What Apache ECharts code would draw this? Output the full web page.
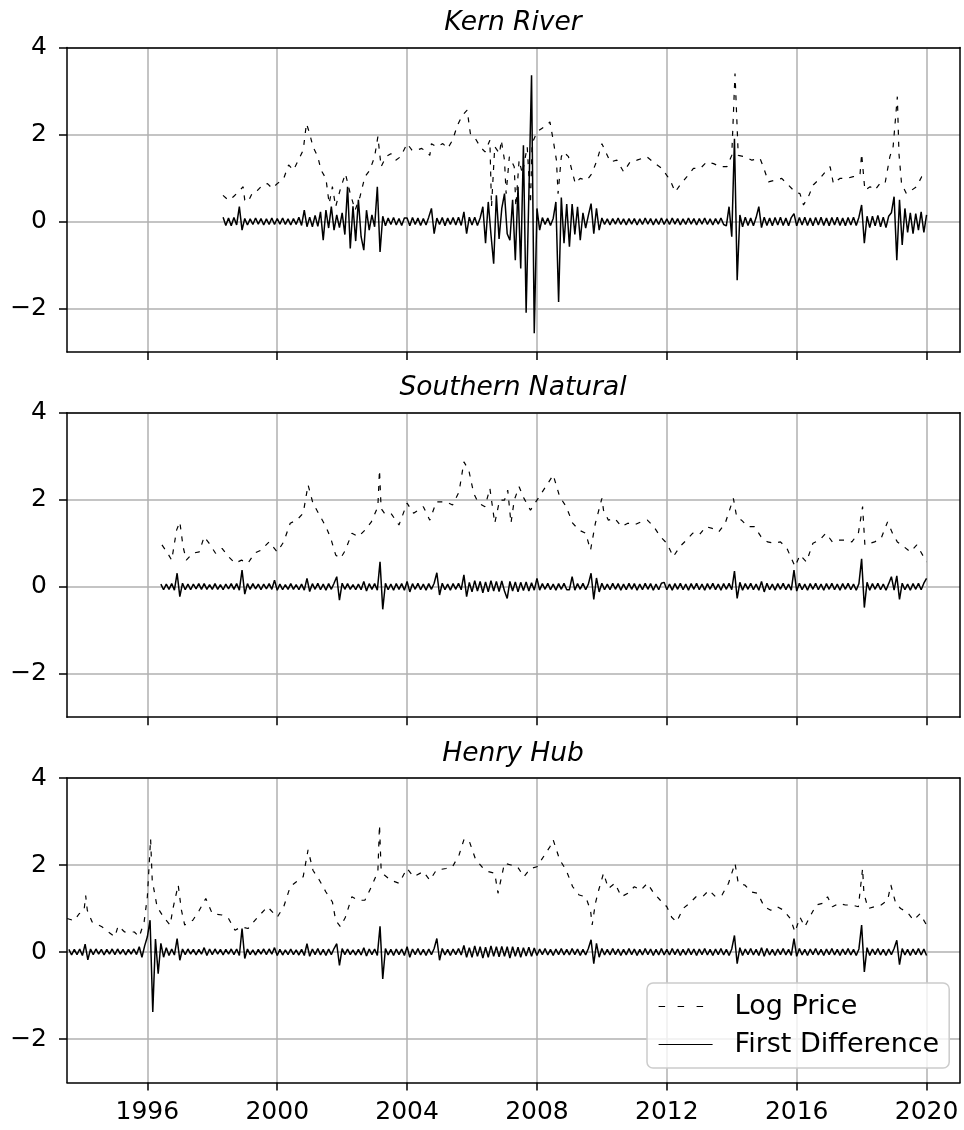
<!DOCTYPE html>
<html>
<head>
<meta charset="utf-8">
<script src="https://cdn.jsdelivr.net/npm/echarts@6.0.0/dist/echarts.min.js"></script>
<style>
  html, body { margin: 0; padding: 0; background: #fff; }
  #main { width: 964px; height: 1130px; }
</style>
</head>
<body>
<div id="main"></div>
<script>
// panel titles and tick labels
const titles = ['Kern River', 'Southern Natural', 'Henry Hub'];
const yearTicks = [1996, 2000, 2004, 2008, 2012, 2016, 2020];
const valueTicks = [-2, 0, 2, 4];

// log price, [decimal year, value]
const kernPrice = [
  [1998.33,.6],[1998.5,.49],[1998.65,.57],[1998.8,.68],[1998.95,.8],[1999.0,.49],[1999.1,.45],[1999.25,.68],
  [1999.4,.72],[1999.55,.84],[1999.7,.87],[1999.85,.76],[2000.0,.87],[2000.2,.99],[2000.35,1.3],[2000.5,1.18],
  [2000.65,1.41],[2000.8,1.64],[2000.9,2.25],[2001.0,2.02],[2001.1,1.72],[2001.25,1.49],[2001.35,1.18],[2001.5,.99],
  [2001.6,.41],[2001.7,.8],[2001.8,.34],[2001.95,.76],[2002.1,1.1],[2002.25,.64],[2002.4,.26],[2002.55,.57],
  [2002.7,1.03],[2002.85,1.18],[2003.0,1.49],[2003.1,1.95],[2003.2,1.26],[2003.35,1.49],[2003.5,1.56],[2003.65,1.41],
  [2003.8,1.49],[2004.0,1.79],[2004.15,1.64],[2004.3,1.64],[2004.45,1.68],[2004.6,1.6],[2004.7,1.52],[2004.75,1.79],
  [2004.9,1.72],[2005.1,1.79],[2005.25,1.68],[2005.4,1.87],[2005.55,2.21],[2005.7,2.44],[2005.85,2.56],[2005.95,2.02],
  [2006.1,1.91],[2006.25,1.72],[2006.4,1.6],[2006.55,1.87],[2006.6,.34],[2006.7,1.72],[2006.85,1.56],[2006.9,1.87],
  [2007.0,1.41],[2007.05,.64],[2007.15,1.49],[2007.3,1.26],[2007.35,.34],[2007.45,1.41],[2007.55,1.1],[2007.7,1.72],
  [2007.8,.41],[2007.85,1.79],[2008.0,2.06],[2008.15,2.14],[2008.3,2.21],[2008.4,2.29],[2008.5,1.87],[2008.6,1.41],
  [2008.65,.64],[2008.75,1.49],[2008.82,1.6],[2008.97,1.49],[2009.18,.87],[2009.33,.99],[2009.54,.95],[2009.69,1.1],
  [2009.85,1.41],[2010.0,1.79],[2010.26,1.37],[2010.46,1.41],[2010.67,1.14],[2010.87,1.37],[2011.08,1.41],[2011.38,1.49],
  [2011.64,1.33],[2011.85,1.22],[2012.1,.95],[2012.26,.68],[2012.41,.84],[2012.62,1.03],[2012.82,1.22],[2013.03,1.22],
  [2013.23,1.37],[2013.44,1.33],[2013.64,1.26],[2013.85,1.26],[2014.0,1.52],[2014.1,3.4],[2014.2,1.52],[2014.41,1.49],
  [2014.62,1.41],[2014.87,1.45],[2014.97,1.26],[2015.13,.91],[2015.33,.95],[2015.54,.99],[2015.74,.84],[2015.95,.68],
  [2016.1,.64],[2016.21,.38],[2016.36,.57],[2016.51,.84],[2016.72,.99],[2016.92,1.18],[2017.03,1.26],[2017.13,.87],
  [2017.33,.99],[2017.54,.99],[2017.74,1.03],[2017.95,1.07],[2018.0,1.56],[2018.1,.72],[2018.26,.8],[2018.41,.72],
  [2018.56,.87],[2018.72,.87],[2018.87,1.49],[2018.97,1.72],[2019.1,2.87],[2019.15,1.56],[2019.23,.87],[2019.38,.64],
  [2019.54,.72],[2019.69,.8],[2019.85,1.03],[2020.0,1.14]
];
const southernPrice = [
  [1996.45,.96],[1996.6,.8],[1996.75,.61],[1996.9,1.3],[1997.0,1.49],[1997.1,.92],[1997.2,.61],[1997.4,.77],
  [1997.6,.8],[1997.75,1.15],[1997.9,1.0],[1998.1,.77],[1998.3,.88],[1998.5,.69],[1998.7,.54],[1998.9,.61],
  [1999.1,.54],[1999.3,.77],[1999.5,.84],[1999.75,1.03],[2000.0,.8],[2000.2,1.03],[2000.4,1.46],[2000.6,1.53],
  [2000.8,1.69],[2000.95,2.34],[2001.1,1.92],[2001.3,1.65],[2001.5,1.38],[2001.65,1.11],[2001.8,.73],[2001.95,.65],
  [2002.1,.84],[2002.3,1.23],[2002.5,1.15],[2002.7,1.3],[2002.9,1.49],[2003.1,1.84],[2003.15,2.68],[2003.2,1.8],
  [2003.3,1.69],[2003.5,1.69],[2003.75,1.42],[2004.0,1.92],[2004.2,1.69],[2004.5,1.84],[2004.7,1.53],[2004.9,1.95],
  [2005.2,1.95],[2005.4,1.88],[2005.6,2.18],[2005.75,2.87],[2005.9,2.68],[2006.05,2.15],[2006.2,1.92],[2006.4,1.84],
  [2006.55,2.26],[2006.7,1.46],[2006.85,1.99],[2007.0,1.99],[2007.1,2.22],[2007.2,1.46],[2007.3,1.99],[2007.45,2.3],
  [2007.6,2.03],[2007.8,1.76],[2008.0,1.99],[2008.2,2.22],[2008.4,2.45],[2008.5,2.57],[2008.7,2.07],[2008.9,1.84],
  [2009.1,1.46],[2009.3,1.3],[2009.5,1.23],[2009.65,.84],[2009.8,1.46],[2010.0,2.03],[2010.05,1.76],[2010.2,1.53],
  [2010.4,1.57],[2010.6,1.38],[2010.8,1.46],[2011.0,1.42],[2011.2,1.49],[2011.4,1.53],[2011.6,1.38],[2011.8,1.15],
  [2012.0,1.0],[2012.2,.69],[2012.4,.92],[2012.6,1.07],[2012.8,1.23],[2013.0,1.19],[2013.2,1.38],[2013.4,1.34],
  [2013.6,1.26],[2013.8,1.46],[2014.05,2.03],[2014.15,1.61],[2014.3,1.53],[2014.5,1.38],[2014.7,1.38],[2014.9,1.15],
  [2015.1,1.03],[2015.3,1.0],[2015.5,1.03],[2015.7,.88],[2015.95,.46],[2016.1,.73],[2016.3,.57],[2016.5,1.0],
  [2016.7,1.07],[2016.9,1.23],[2017.1,1.03],[2017.3,1.07],[2017.5,1.07],[2017.7,1.03],[2017.9,1.23],[2018.03,1.84],
  [2018.1,.96],[2018.4,1.03],[2018.6,1.11],[2018.8,1.49],[2018.95,1.23],[2019.1,1.03],[2019.3,.92],[2019.5,.8],
  [2019.7,.96],[2020.0,.57]
];
const henryPrice = [
  [1993.53,.77],[1993.75,.72],[1993.9,.88],[1994.05,.96],[1994.1,1.3],[1994.15,.96],[1994.3,.69],[1994.6,.58],
  [1994.8,.46],[1995.0,.35],[1995.1,.6],[1995.3,.46],[1995.6,.46],[1995.75,.35],[1995.9,.69],[1996.0,1.27],
  [1996.1,2.6],[1996.15,1.65],[1996.3,1.04],[1996.5,.8],[1996.7,.62],[1996.8,1.04],[1996.95,1.54],[1997.05,.96],
  [1997.15,.62],[1997.4,.73],[1997.6,.96],[1997.8,1.23],[1998.0,.88],[1998.3,.85],[1998.5,.77],[1998.7,.5],
  [1998.9,.58],[1999.1,.54],[1999.4,.8],[1999.7,1.04],[2000.0,.8],[2000.2,1.04],[2000.4,1.5],[2000.6,1.62],
  [2000.8,1.73],[2000.95,2.35],[2001.1,1.88],[2001.3,1.65],[2001.5,1.38],[2001.7,1.15],[2001.8,.73],[2001.95,.58],
  [2002.1,.8],[2002.3,1.27],[2002.5,1.19],[2002.7,1.19],[2002.9,1.5],[2003.1,1.85],[2003.15,2.92],[2003.2,1.9],
  [2003.3,1.77],[2003.5,1.65],[2003.75,1.58],[2004.0,1.92],[2004.2,1.73],[2004.5,1.85],[2004.7,1.65],[2004.9,1.88],
  [2005.2,1.92],[2005.4,1.96],[2005.6,2.23],[2005.75,2.58],[2005.9,2.58],[2006.1,2.15],[2006.3,1.96],[2006.5,1.85],
  [2006.7,1.81],[2006.8,1.35],[2007.0,2.04],[2007.2,2.0],[2007.4,1.96],[2007.6,1.73],[2007.8,1.92],[2008.0,1.96],
  [2008.2,2.19],[2008.4,2.42],[2008.5,2.58],[2008.7,2.12],[2008.9,1.88],[2009.1,1.5],[2009.3,1.31],[2009.5,1.27],
  [2009.65,.96],[2009.7,.62],[2009.8,1.12],[2009.9,1.42],[2010.05,1.81],[2010.2,1.46],[2010.4,1.58],[2010.6,1.27],
  [2010.8,1.35],[2011.0,1.5],[2011.2,1.42],[2011.4,1.58],[2011.6,1.35],[2011.8,1.19],[2012.0,1.04],[2012.15,.8],
  [2012.3,.69],[2012.5,1.0],[2012.7,1.12],[2012.9,1.27],[2013.1,1.27],[2013.3,1.42],[2013.5,1.27],[2013.7,1.31],
  [2013.9,1.58],[2014.1,2.04],[2014.2,1.58],[2014.4,1.54],[2014.6,1.38],[2014.8,1.35],[2015.0,1.04],[2015.2,.96],
  [2015.4,1.04],[2015.6,.96],[2015.8,.77],[2015.95,.46],[2016.1,.8],[2016.25,.58],[2016.4,.8],[2016.6,1.08],
  [2016.8,1.12],[2016.95,1.27],[2017.1,1.04],[2017.3,1.12],[2017.5,1.08],[2017.7,1.08],[2017.9,1.04],[2018.03,1.92],
  [2018.07,1.35],[2018.2,1.0],[2018.4,1.04],[2018.6,1.08],[2018.8,1.19],[2018.9,1.54],[2019.05,1.12],[2019.2,1.0],
  [2019.4,.92],[2019.6,.73],[2019.8,.88],[2020.0,.62]
];

// first difference, one value per month from the start month
const kernDiffStart = 1998 + 4 / 12;
const kernDiff = [
  .1,-.09,.08,-.1,.09,-.08,.34,-.2,
  .07,-.08,.06,-.07,.08,-.06,.07,-.08,.06,-.07,.08,-.07,
  .07,-.06,.08,-.07,.06,-.08,.07,-.07,.1,-.09,.26,-.12,
  .1,-.12,.14,-.11,.22,-.43,.26,-.15,.34,-.2,.15,-.14,
  .2,-.3,.8,-.62,.35,-.45,.5,-.35,-.66,.26,-.2,.15,
  -.12,.8,-.7,.12,-.1,.08,-.07,.09,-.08,.07,-.09,.08,
  .08,-.1,.09,-.07,.08,-.09,.07,-.08,.1,.3,-.28,.08,
  -.07,.09,-.1,.08,-.07,.09,-.08,.1,-.09,.22,-.28,.1,
  -.08,.1,-.09,.08,.34,-.5,.45,-.3,-.97,.6,-.4,.3,
  .64,-.28,-.43,.5,-.89,.8,-1.08,1.75,-2.1,.6,3.36,-2.57,
  .3,-.2,.09,-.07,.08,-.09,.07,.45,-1.85,.55,-.5,.4,
  -.58,.4,-.3,.34,-.43,.2,-.15,.14,.41,-.28,.3,-.2,
  .08,-.07,.06,-.08,.07,-.06,.08,-.07,.06,-.08,.07,-.06,
  .07,-.08,.06,-.07,.08,-.06,.07,-.08,.06,-.07,.08,-.07,
  .06,-.07,.08,-.06,.07,-.08,.06,-.07,.08,-.06,.07,-.08,
  .07,-.06,.08,-.07,.06,-.08,.07,-.06,.08,-.07,-.1,.34,
  -.35,1.9,-1.35,.15,-.12,.1,-.09,.08,-.1,.09,.34,-.14,
  .1,-.09,.08,-.1,.09,-.08,.1,-.09,.08,-.1,.09,.18,
  -.1,.09,-.08,.1,-.09,.08,-.1,.09,-.08,.1,-.09,.08,
  -.1,.09,-.08,.1,-.09,.08,-.1,.09,-.08,.1,-.09,.1,
  .38,-.5,.12,-.14,.12,-.1,.14,-.12,.1,-.14,.12,.2,
  .57,-.89,.5,-.54,.3,-.25,.2,-.28,.18,-.2,.22,-.25,
  .15
];
const southernDiffStart = 1996 + 5 / 12;
const southernDiff = [
  .06,-.07,.06,-.06,.07,-.08,.31,
  -.23,.08,-.07,.06,-.07,.06,-.05,.07,-.06,.07,-.06,.05,
  -.06,.07,-.06,.05,-.07,.06,-.05,.07,-.06,.07,-.08,.38,
  -.17,.07,-.06,.07,-.05,.06,-.07,.06,-.05,.07,-.06,.15,
  -.08,.06,-.07,.05,-.06,.07,-.06,.05,-.07,.06,-.08,.19,
  -.11,.07,-.06,.08,-.07,.06,-.08,.07,-.06,.08,.23,-.31,
  .08,-.06,.07,-.06,.05,-.07,.06,-.07,.12,-.1,.07,-.06,
  .07,-.08,.57,-.52,.08,-.07,.06,-.08,.07,-.06,.07,-.08,
  .12,-.12,.07,-.06,.08,-.07,.06,-.08,.07,-.06,.08,.32,
  -.19,.08,-.07,.06,-.08,.07,-.06,.08,-.07,.27,-.23,.1,
  -.12,.14,-.1,.12,-.14,.11,-.12,.14,-.1,.12,-.11,.13,
  -.1,-.27,.12,-.1,.11,-.12,.1,-.09,.11,-.1,.09,-.08,
  .19,-.08,.07,-.06,.08,-.07,.06,-.08,.07,-.06,.08,-.07,
  -.07,.23,-.08,.07,-.06,.08,-.07,.06,.31,-.29,.2,-.12,
  .08,-.07,.06,-.07,.08,-.06,.07,-.08,.06,-.07,.08,-.06,
  .07,-.08,.06,-.07,.08,-.06,.07,-.08,.06,-.07,.08,.1,
  -.07,.06,-.08,.07,-.06,.08,-.07,.06,-.08,.07,-.06,.08,
  -.07,.06,-.08,.07,-.06,.08,-.07,.06,-.08,.07,-.06,.08,
  -.07,.36,-.27,.1,-.08,.07,-.06,.08,-.07,.06,-.08,.12,
  -.12,.08,-.07,.06,-.08,.07,-.06,.08,-.07,.06,-.08,.38,
  -.1,.08,-.07,.06,-.08,.07,-.06,.08,-.07,.06,-.08,.07,
  -.06,.08,-.07,.06,-.08,.07,-.06,.08,-.07,.06,-.08,.07,
  .64,-.48,.1,-.08,.07,-.06,.08,-.07,.06,-.08,.07,.23,
  -.08,.25,-.29,.08,-.07,.06,-.08,.07,-.06,.08,-.07,.08,
  .19
];
const henryDiffStart = 1993 + 7 / 12;
const henryDiff = [
  .06,-.07,.06,-.06,.07,
  -.08,.18,-.18,.07,-.06,.07,-.05,.06,-.07,.06,-.05,.07,
  -.06,.07,-.05,.06,-.07,.06,-.05,.07,-.06,.12,-.12,.14,
  .35,.73,-1.38,.3,-.5,.2,-.12,.1,-.08,.07,-.07,.31,
  -.19,.07,-.06,.07,-.05,.06,-.07,.06,-.05,.1,-.08,.07,
  -.06,.07,-.05,.06,-.07,.06,-.05,.07,-.06,.07,-.08,.54,
  -.15,.07,-.06,.05,-.07,.06,-.05,.07,-.06,.07,-.05,.1,
  -.08,.06,-.07,.05,-.06,.07,-.06,.05,-.07,.06,-.08,.19,
  -.1,.07,-.06,.08,-.07,.06,-.08,.07,-.06,.08,.19,-.31,
  .08,-.06,.07,-.06,.05,-.07,.06,-.07,.1,-.09,.07,-.06,
  .07,-.08,.59,-.62,.08,-.07,.06,-.08,.07,-.06,.07,-.08,
  .12,-.12,.07,-.06,.08,-.07,.06,-.08,.07,-.06,.08,.31,
  -.19,.08,-.07,.06,-.08,.07,-.06,.08,-.07,.15,-.12,.1,
  -.12,.14,-.1,.12,-.14,.11,-.12,.14,-.1,.12,-.11,.13,
  -.1,.12,-.14,.12,-.1,.11,-.12,.1,-.09,.11,-.1,.09,
  -.08,.07,-.06,.08,-.07,.06,-.08,.07,-.06,.08,-.07,.06,
  -.07,.08,-.06,.07,-.08,.06,-.07,.08,.28,-.27,.2,-.12,
  .08,-.07,.06,-.07,.08,-.06,.07,-.08,.06,-.07,.08,-.06,
  .07,-.08,.06,-.07,.08,-.06,.07,-.08,.06,-.07,.08,-.07,
  .06,-.07,.08,-.06,.07,-.08,.06,-.07,.08,-.06,.07,-.08,
  .07,-.06,.08,-.07,.06,-.08,.07,-.06,.08,-.07,.06,-.08,
  .07,.38,-.27,.1,-.08,.07,-.06,.08,-.07,.06,-.08,.1,
  -.1,.08,-.07,.06,-.08,.07,-.06,.08,-.07,.06,-.08,.31,
  -.1,.08,-.07,.06,-.08,.07,-.06,.08,-.07,.06,-.08,.07,
  -.06,.08,-.07,.06,-.08,.07,-.06,.08,-.07,.06,-.08,.07,
  .62,-.46,.1,-.08,.07,-.06,.08,-.07,.06,-.08,.07,-.06,
  .08,.27,-.29,.08,-.07,.06,-.08,.07,-.06,.08,-.07,.07,
  -.08
];

const FONT = 'DejaVu Sans';
const X_MIN = 1993.525, X_MAX = 2021.03;
const gridTops = [47.5, 412.7, 778];
const titleTops = [9.5, 375, 741];
const frameLine = { show: true, onZero: false, lineStyle: { color: '#000', width: 1.5 } };

function monthly(start, vals) {
  return vals.map((v, i) => [start + i / 12, v]);
}

const prices = [kernPrice, southernPrice, henryPrice];
const diffs = [monthly(kernDiffStart, kernDiff), monthly(southernDiffStart, southernDiff), monthly(henryDiffStart, henryDiff)];

const grids = [], xAxes = [], yAxes = [], series = [];
for (let i = 0; i < 3; i++) {
  grids.push({
    left: 67, top: gridTops[i], width: 893, height: 304.5,
    outerBoundsMode: 'none', containLabel: false
  });
  xAxes.push({
    type: 'value', gridIndex: i, min: X_MIN, max: X_MAX,
    axisLine: { show: true, onZero: false, lineStyle: { color: '#000', width: 1.5 } },
    axisTick: { show: true, length: 8, customValues: yearTicks, lineStyle: { color: '#000', width: 1.5 } },
    axisLabel: {
      show: i === 2, customValues: yearTicks, color: '#000', fontSize: 25, fontFamily: FONT, margin: 17,
      formatter: v => String(v)
    },
    splitLine: { show: true, lineStyle: { color: '#b0b0b0', width: 1.5 } }
  });
  yAxes.push({
    type: 'value', gridIndex: i, min: -3, max: 4,
    axisLine: { show: true, onZero: false, lineStyle: { color: '#000', width: 1.5 } },
    axisTick: { show: true, length: 8, customValues: valueTicks, lineStyle: { color: '#000', width: 1.5 } },
    axisLabel: {
      customValues: valueTicks, color: '#000', fontSize: 25, fontFamily: FONT, margin: 20,
      formatter: v => String(v).replace('-', '\u2212')
    },
    splitLine: { show: true, lineStyle: { color: '#b0b0b0', width: 1.5 } }
  });
  series.push({
    name: 'Log Price', type: 'line', xAxisIndex: i, yAxisIndex: i,
    data: prices[i], symbol: 'none', silent: true,
    lineStyle: { color: '#000', width: 1.2, type: [5, 7] },
    itemStyle: { color: '#000' }
  });
  series.push({
    name: 'First Difference', type: 'line', xAxisIndex: i, yAxisIndex: i,
    data: diffs[i], symbol: 'none', silent: true,
    lineStyle: { color: '#000', width: 1.5 },
    itemStyle: { color: '#000' }
  });
}
// top and right frame lines of each panel
for (let i = 0; i < 3; i++) {
  xAxes.push({
    type: 'value', gridIndex: i, position: 'top', min: X_MIN, max: X_MAX, z: 10,
    axisLine: frameLine, axisTick: { show: false }, axisLabel: { show: false }, splitLine: { show: false }
  });
  yAxes.push({
    type: 'value', gridIndex: i, position: 'right', min: -3, max: 4, z: 10,
    axisLine: frameLine, axisTick: { show: false }, axisLabel: { show: false }, splitLine: { show: false }
  });
}

const chart = echarts.init(document.getElementById('main'));
chart.setOption({
  animation: false,
  backgroundColor: '#fff',
  title: titles.map((t, i) => ({
    text: t, left: 513, top: titleTops[i], textAlign: 'center', padding: 0,
    textStyle: { color: '#000', fontSize: 26.5, fontStyle: 'italic', fontWeight: 'normal', fontFamily: FONT }
  })),
  legend: {
    data: [
      { name: 'Log Price', lineStyle: { width: 1.2, type: [6.5, 12.5] } },
      { name: 'First Difference', lineStyle: { width: 1 } }
    ],
    orient: 'vertical', left: 647, top: 983,
    itemWidth: 54, itemHeight: 14, itemGap: 11,
    padding: [10, 10, 10, 11],
    backgroundColor: 'rgba(255,255,255,0.8)', borderColor: '#cccccc', borderWidth: 1.5, borderRadius: 6,
    selectedMode: false,
    itemStyle: { opacity: 0 },
    textStyle: { color: '#000', fontSize: 27, fontFamily: FONT, padding: [0, 0, 0, 17] }
  },
  grid: grids,
  xAxis: xAxes,
  yAxis: yAxes,
  series: series
});
</script>
</body>
</html>
